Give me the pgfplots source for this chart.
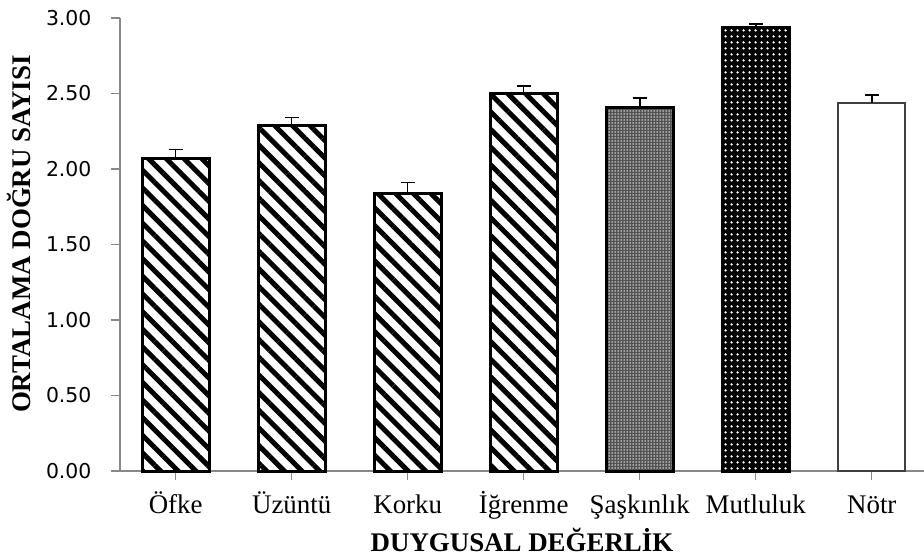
\documentclass[border=0pt]{standalone}
\usepackage{pgfplots}
\pgfplotsset{compat=1.18}
\usepackage{fontspec}
\setmainfont{Liberation Serif}
\newfontfamily\tickfont{DejaVu Sans}
\usetikzlibrary{patterns.meta}

\definecolor{axgray}{RGB}{136,136,136}

\begin{document}
\begin{tikzpicture}
\begin{axis}[
    name=ax,
    scale only axis,
    width=804bp, height=453bp,
    ybar,
    bar width=0.578,
    xmin=-0.48, xmax=6.45,
    ymin=0, ymax=3,
    axis x line*=bottom,
    axis y line*=left,
    axis line style={draw=axgray, line width=1.2bp},
    xtick={0,1,2,3,4,5,6},
    xticklabels={Öfke, Üzüntü, Korku, İğrenme, Şaşkınlık, Mutluluk, Nötr},
    ytick={0,0.5,1,1.5,2,2.5,3},
    tick style={draw=axgray, line width=1.2bp},
    major tick length=9bp,
    tick align=outside,
    /pgf/number format/assume math mode=true,
    yticklabel={\pgfmathprintnumber[fixed,fixed zerofill,precision=2]{\tick}},
    yticklabel style={font=\tickfont\fontsize{20.5}{24}\selectfont, xshift=-16bp},
    xticklabel style={font=\fontsize{27}{32}\selectfont, anchor=base, yshift=-33bp},
    xlabel={DUYGUSAL DEĞERLİK},
    ylabel={ORTALAMA DOĞRU SAYISI},
    xlabel style={font=\bfseries\fontsize{27}{32}\selectfont,
                  at={(axis description cs:0.5,-0.1788)}, anchor=base},
    ylabel style={font=\bfseries\fontsize{27}{32}\selectfont,
                  at={(axis description cs:-0.1107,0.523)}, anchor=base},
    clip=false,
    b/.style={bar shift=0pt, draw=black, line width=3bp},
    e/.style={error bars/.cd, y dir=plus, y explicit,
              error bar style={line width=1.5bp, black},
              error mark options={rotate=90, line width=1.5bp, black, mark size=7bp}},
    hatch/.style={pattern={Lines[angle=-45, distance=12.5bp, line width=5bp]}, pattern color=black},
]
% hatched bars
\addplot[b, hatch, e] coordinates {(0,2.07) +- (0,0.06)};
\addplot[b, hatch, e] coordinates {(1,2.29) +- (0,0.05)};
\addplot[b, hatch, e] coordinates {(2,1.84) +- (0,0.07)};
\addplot[b, hatch, e] coordinates {(3,2.50) +- (0,0.05)};
% Saskinlik: gray fine grid
\addplot[b, fill=black!68, e] coordinates {(4,2.41) +- (0,0.06)};
\addplot[b, pattern={Dots[distance=3bp, radius=0.75bp]}, pattern color=white] coordinates {(4,2.41)};
% Mutluluk: black with white dots
\addplot[b, fill=black, e] coordinates {(5,2.94) +- (0,0.02)};
\addplot[b, pattern={Dots[distance=6bp, radius=1.5bp]}, pattern color=white] coordinates {(5,2.94)};
% Notr: plain white
\addplot[bar shift=0pt, draw=black!75, line width=2bp, fill=white, e] coordinates {(6,2.44) +- (0,0.05)};
\end{axis}
\pgfresetboundingbox
\path[use as bounding box] ([shift={(-120bp,-87bp)}]ax.south west) rectangle ([shift={(0bp,18bp)}]ax.north east);
\end{tikzpicture}
\end{document}
